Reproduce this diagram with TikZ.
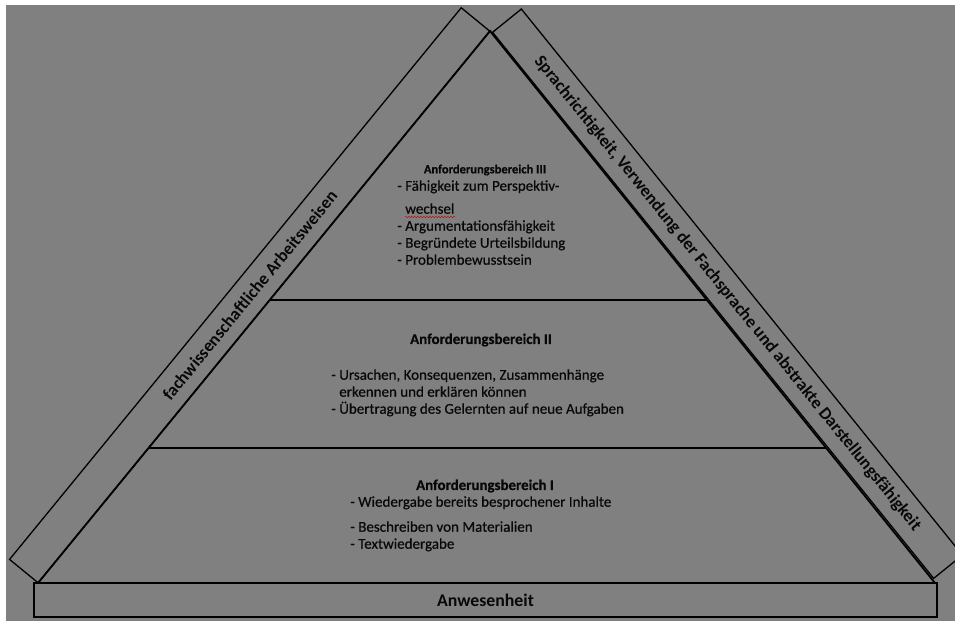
\documentclass[tikz,border=0pt]{standalone}
\usepackage{fontspec}
\setmainfont{Carlito}
\newfontface\itemface{Carlito}[FakeBold=0.5]
\newfontface\headface{Carlito Bold}[FakeBold=0.6]
\usepackage{tikz}
\usetikzlibrary{calc, decorations.pathmorphing}

\definecolor{bggray}{RGB}{128,128,128}
\definecolor{ink}{RGB}{8,8,8}

\begin{document}
\begin{tikzpicture}[
            x = 1pt, y = -1pt, % one unit per pixel, y downwards
            line join = miter,
            text = ink,
            semithick % line style
        ]

        \tikzstyle{bar}=[
            draw = black,
            line width = 1.3pt,
            minimum height = 37pt,
            inner sep = 0pt,
            font = \fontsize{17.5}{20}\selectfont\bfseries
        ]
        \tikzstyle{level}=[
            inner sep = 0pt,
            font = \fontsize{14.9}{17}\selectfont\headface
        ]
        \tikzstyle{items}=[
            inner sep = 0pt,
            align = left,
            anchor = north west,
            font = \fontsize{15}{17}\selectfont\itemface
        ]
        \tikzstyle{sep}=[line width = 2.4pt]

        % page and grey ground
        \fill[white] (0,0) rectangle (955,621);
        \fill[bggray] (6,5) rectangle (955,621);
        \useasboundingbox (0,0) rectangle (955,621);

        \coordinate (L) at (38,583);
        \coordinate (T) at (490,31);
        \coordinate (R) at (935,583);

        % side bars
        \node[bar, minimum width = 713pt, rotate = 50.69] (fach) at (249.7,295.3)
            {fachwissenschaftliche Arbeitsweisen};
        \node[bar, minimum width = 702pt, rotate = -51.07] (sprache) at (727.5,293.7)
            {Sprachrichtigkeit, Verwendung der Fachsprache und abstrakte Darstellungsfähigkeit};

        % base
        \node[draw = black, line width = 2pt, minimum width = 903pt, minimum height = 34pt,
            font = \fontsize{17.8}{20}\selectfont\bfseries] (anw) at (485.5,600) {Anwesenheit};

        % pyramid
        \draw[line width = 1.8pt] (L) -- (T) -- (R);
        \draw[sep] ($(L)!0.513!(T)$) -- ($(R)!0.513!(T)$);
        \draw[sep] ($(L)!0.2446!(T)$) -- ($(R)!0.2446!(T)$);

        % Anforderungsbereich III
        \node[level, font = \fontsize{12.5}{15}\selectfont\headface] (h3) at (485,170) {Anforderungsbereich III};
        \node[items] (l3) at (397,180) {- Fähigkeit zum Perspektiv-\\[6pt]
            \hspace{8pt}wechsel\\
            - Argumentationsfähigkeit\\
            - Begründete Urteilsbildung\\
            - Problembewusstsein};
        \draw[red!80!black, thin, decorate, decoration = {snake, amplitude = 0.7pt, segment length = 3pt}]
            ($(l3.north west)+(8,37)$) -- ++(50,0);

        % Anforderungsbereich II
        \node[level] (h2) at (481,340) {Anforderungsbereich II};
        \node[items] (l2) at (331,369) {- Ursachen, Konsequenzen, Zusammenhänge\\
            \hspace{8pt}erkennen und erklären können\\
            - Übertragung des Gelernten auf neue Aufgaben};

        % Anforderungsbereich I
        \node[level] (h1) at (485,486) {Anforderungsbereich I};
        \node[items] (l1) at (350,496) {- Wiedergabe bereits besprochener Inhalte\\[8pt]
            - Beschreiben von Materialien\\
            - Textwiedergabe};

  \end{tikzpicture}
\end{document}
